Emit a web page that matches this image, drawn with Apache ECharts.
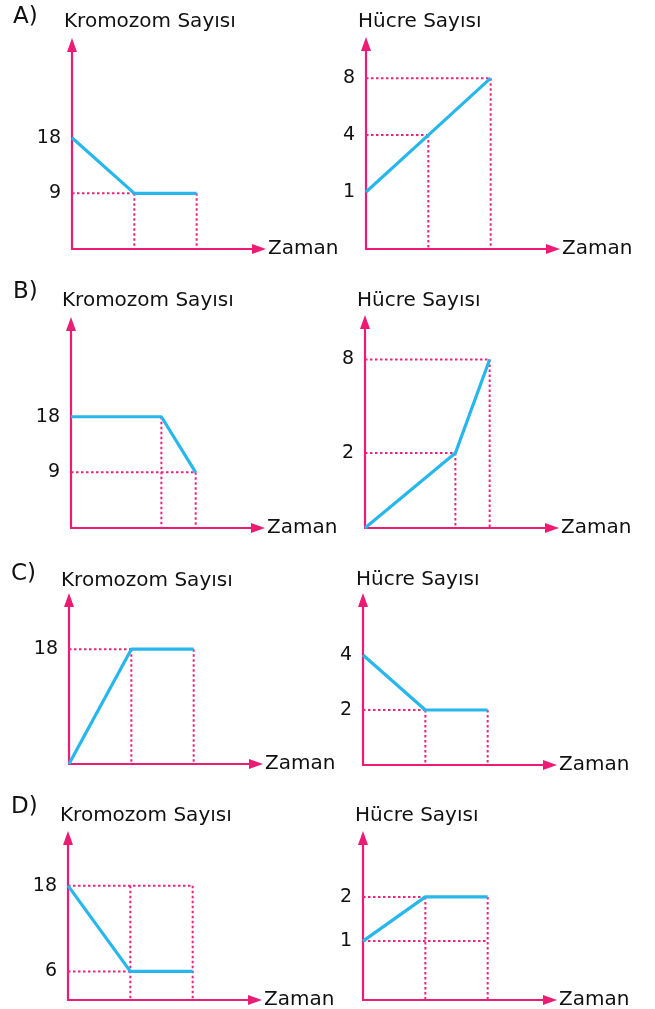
<!DOCTYPE html>
<html><head><meta charset="utf-8">
<script src="https://cdn.jsdelivr.net/npm/echarts@6/dist/echarts.min.js"></script>
<style>html,body{margin:0;padding:0;background:#fff}#c{width:655px;height:1009px}</style>
</head><body><div id="c"></div>
<script>
// ---------- text ----------
const optionLabels = ['A)', 'B)', 'C)', 'D)'];
const titleKrom = 'Kromozom Sayısı';
const titleHucre = 'Hücre Sayısı';
const xName = 'Zaman';

// ---------- y-axis levels (bottom -> top); '' = unlabeled level of the schematic axis ----------
const levelsAK = ['0','','','9','','','18','','','','',''];
const levelsAH = ['0','','','','','1','','','','','4','','','','','8','','',''];
const levelsBK = ['0','','','9','','','18','','','','',''];
const levelsBH = ['0','','','','2','','','','','8','',''];
const levelsCK = ['0','','','','','','','18','','',''];
const levelsCH = ['0','2','4',''];
const levelsDK = ['0','','','6','','','','','','','','','18','','','','',''];
const levelsDH = ['0','','','','1','','','2','','','',''];

// ---------- series (time, value) ----------
const timeA = [0, 1, 2];
const kromA = [18, 9, 9];
const hucreA = [1, 4, 8];
const timeB = [0, 1.45, 2];
const kromB = [18, 18, 9];
const hucreB = [0, 2, 8];
const timeC = [0, 1, 2];
const kromC = [0, 18, 18];
const hucreC = [4, 2, 2];
const timeD = [0, 1, 2];
const kromD = [18, 6, 6];
const hucreD = [1, 2, 2];

// ---------- dotted guide segments [[t1,v1],[t2,v2]] ----------
const guidesAK = [[[0,9],[1,9]], [[1,9],[1,0]], [[2,9],[2,0]]];
const guidesAH = [[[0,8],[2,8]], [[0,4],[1,4]], [[1,4],[1,0]], [[2,8],[2,0]]];
const guidesBK = [[[0,9],[2,9]], [[1.45,18],[1.45,0]], [[2,9],[2,0]]];
const guidesBH = [[[0,8],[2,8]], [[0,2],[1.45,2]], [[1.45,2],[1.45,0]], [[2,8],[2,0]]];
const guidesCK = [[[0,18],[1,18]], [[1,18],[1,0]], [[2,18],[2,0]]];
const guidesCH = [[[0,2],[1,2]], [[1,2],[1,0]], [[2,2],[2,0]]];
const guidesDK = [[[0,18],[2,18]], [[0,6],[1,6]], [[1,18],[1,0]], [[2,18],[2,0]]];
const guidesDH = [[[0,2],[1,2]], [[0,1],[2,1]], [[1,2],[1,0]], [[2,2],[2,0]]];

const PINK = '#ec1c75';
const DOT = '#e9257f';
const CYAN = '#27b7ec';
const TXT = '#111111';
const FONT = '"DejaVu Sans", "Liberation Sans", sans-serif';

const panels = [
  {grid:{left:72, top:45, width:187, height:204}, levels:levelsAK, t:timeA, v:kromA, guides:guidesAK},
  {grid:{left:366, top:44, width:187, height:205}, levels:levelsAH, t:timeA, v:hucreA, guides:guidesAH},
  {grid:{left:71, top:324, width:187, height:204}, levels:levelsBK, t:timeB, v:kromB, guides:guidesBK},
  {grid:{left:365, top:322, width:187, height:206}, levels:levelsBH, t:timeB, v:hucreB, guides:guidesBH},
  {grid:{left:69, top:600, width:187, height:164}, levels:levelsCK, t:timeC, v:kromC, guides:guidesCK},
  {grid:{left:363, top:600, width:187, height:165}, levels:levelsCH, t:timeC, v:hucreC, guides:guidesCH},
  {grid:{left:68, top:838, width:187, height:162}, levels:levelsDK, t:timeD, v:kromD, guides:guidesDK},
  {grid:{left:363, top:838, width:187, height:162}, levels:levelsDH, t:timeD, v:hucreD, guides:guidesDH}
];

const option = {animation:false, backgroundColor:'#fff', grid:[], xAxis:[], yAxis:[], series:[], graphic:[]};

panels.forEach((p, i) => {
  option.grid.push(Object.assign({containLabel:false, outerBoundsMode:'none', show:false}, p.grid));
  option.xAxis.push({
    gridIndex:i, type:'value', min:0, max:3,
    name:xName, nameLocation:'end', nameGap:9,
    nameTextStyle:{fontFamily:FONT, fontSize:20, color:TXT, padding:[4,0,0,0]},
    axisLine:{show:true, onZero:false, symbol:['none','triangle'], symbolSize:[10,14], lineStyle:{color:PINK, width:2.2}},
    axisTick:{show:false}, axisLabel:{show:false}, splitLine:{show:false}
  });
  option.yAxis.push({
    gridIndex:i, type:'category', data:p.levels, boundaryGap:false,
    axisLine:{show:true, onZero:false, symbol:['none','triangle'], symbolSize:[10,14], lineStyle:{color:PINK, width:2.2}},
    axisTick:{show:false}, splitLine:{show:false},
    axisLabel:{show:true, interval:0, margin:11, fontFamily:FONT, fontSize:19, color:TXT,
      formatter: v => (v === '0' ? '' : v)}
  });
  p.guides.forEach(seg => {
    option.series.push({
      type:'line', xAxisIndex:i, yAxisIndex:i, silent:true, clip:false, z:1,
      symbol:'none', data: seg.map(pt => [pt[0], String(pt[1])]),
      lineStyle:{color:DOT, width:2, type:[2.5,2.5]}
    });
  });
  option.series.push({
    type:'line', xAxisIndex:i, yAxisIndex:i, silent:true, clip:false, z:3,
    symbol:'none', data: p.t.map((t, k) => [t, String(p.v[k])]),
    lineStyle:{color:CYAN, width:3.2}
  });
});

const letterPos = [[13,17.5],[13,292.5],[11,574.5],[11,807.5]];
const kromPos = [[64,22],[62,301],[61,581],[60,816]];
const hucrePos = [[358,22],[357,301],[356,579.5],[355,816]];
function txt(text, pos, size) {
  return {type:'text', x:pos[0], y:pos[1], silent:true,
    style:{text:text, font:size + 'px ' + FONT, fill:TXT, verticalAlign:'middle', textVerticalAlign:'middle', align:'left', textAlign:'left'}};
}
optionLabels.forEach((l, i) => {
  option.graphic.push(txt(l, letterPos[i], 23));
  option.graphic.push(txt(titleKrom, kromPos[i], 20));
  option.graphic.push(txt(titleHucre, hucrePos[i], 20));
});

const chart = echarts.init(document.getElementById('c'), null, {renderer:'canvas'});
chart.setOption(option);
</script>
</body></html>
